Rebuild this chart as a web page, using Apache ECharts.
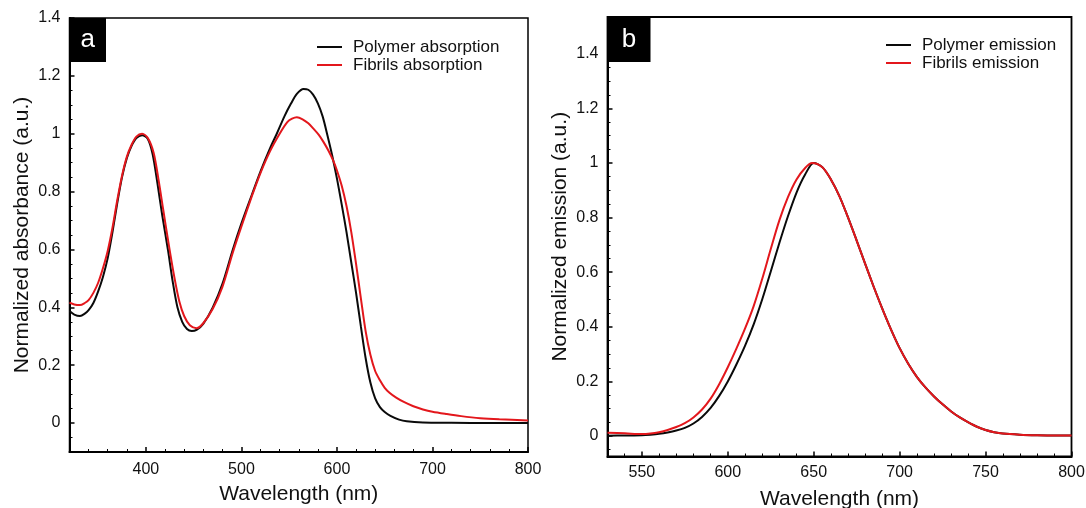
<!DOCTYPE html>
<html><head><meta charset="utf-8">
<script src="https://cdn.jsdelivr.net/npm/echarts@6/dist/echarts.min.js"></script>
<style>html,body{margin:0;padding:0;background:#fff}#c{width:1086px;height:508px}</style>
</head><body><div id="c"></div>
<script>
// ---- Panel a: absorption ----
const absPolymerWl = [320,325,331,336,340,345,350,355,360,365,370,375,380,385,390,396,402,407,412,417,423,428,433,438,443,448,453,460,470,480,491,500,511,520,530,537,545,552,558,565,570,575,580,585,590,595,600,605,610,615,620,625,630,635,640,645,650,656,665,673,690,720,760,800];
const absPolymer   = [0.387,0.375,0.370,0.378,0.390,0.415,0.455,0.505,0.570,0.660,0.760,0.850,0.915,0.958,0.985,0.995,0.982,0.930,0.830,0.720,0.600,0.490,0.400,0.350,0.325,0.318,0.322,0.343,0.400,0.480,0.600,0.690,0.790,0.870,0.950,1.000,1.060,1.105,1.138,1.155,1.152,1.135,1.105,1.060,0.995,0.925,0.845,0.755,0.660,0.555,0.450,0.335,0.225,0.140,0.085,0.055,0.038,0.025,0.012,0.006,0.002,0.001,0.000,0.000];
const absFibrilsWl = [320,325,331,336,340,345,350,355,360,365,370,375,380,385,390,396,402,408,413,418,424,430,435,440,446,453,460,470,480,491,500,511,520,530,540,548,553,558,564,570,575,581,586,591,596,600,605,610,615,620,625,630,635,640,645,650,655,662,670,680,690,700,715,730,750,770,800];
const absFibrils   = [0.416,0.410,0.408,0.415,0.425,0.450,0.485,0.535,0.595,0.675,0.770,0.855,0.920,0.962,0.990,1.000,0.985,0.935,0.845,0.740,0.615,0.500,0.420,0.370,0.338,0.328,0.345,0.395,0.470,0.590,0.680,0.785,0.865,0.940,1.000,1.040,1.052,1.057,1.050,1.036,1.019,0.996,0.971,0.942,0.908,0.873,0.820,0.750,0.660,0.550,0.432,0.318,0.236,0.180,0.148,0.122,0.105,0.088,0.073,0.058,0.047,0.039,0.031,0.024,0.017,0.013,0.009];

// ---- Panel b: emission ----
const emPolymerWl = [530,540,550,555,560,565,570,575,580,585,590,595,600,605,610,615,620,625,630,635,640,645,650,655,660,665,670,675,680,685,690,695,700,705,710,715,720,725,730,735,740,745,750,755,760,770,780,790,800];
const emPolymer   = [0.001,0.002,0.003,0.005,0.008,0.013,0.020,0.030,0.046,0.070,0.103,0.147,0.200,0.262,0.330,0.408,0.500,0.603,0.707,0.805,0.892,0.958,1.000,0.985,0.940,0.878,0.800,0.716,0.630,0.545,0.465,0.390,0.322,0.265,0.217,0.178,0.145,0.116,0.090,0.068,0.050,0.034,0.022,0.014,0.009,0.005,0.003,0.002,0.002];
const emFibrilsWl = [530,540,550,555,560,565,570,575,580,585,590,595,600,605,610,615,620,625,630,635,640,645,649,655,660,665,670,675,680,685,690,695,700,705,710,715,720,725,730,735,740,745,750,755,760,770,780,790,800];
const emFibrils   = [0.012,0.010,0.007,0.009,0.014,0.022,0.033,0.047,0.068,0.097,0.137,0.190,0.252,0.320,0.393,0.475,0.575,0.685,0.790,0.875,0.940,0.982,1.000,0.985,0.940,0.878,0.800,0.716,0.630,0.545,0.465,0.390,0.322,0.265,0.217,0.178,0.145,0.116,0.090,0.068,0.050,0.034,0.022,0.014,0.009,0.005,0.003,0.002,0.002];

const absNames = ['Polymer absorption', 'Fibrils absorption'];
const emNames  = ['Polymer emission', 'Fibrils emission'];
const panelLetters = ['a', 'b'];

const zip = (xs, ys) => xs.map((x, i) => [x, ys[i]]);
const FONT = "'Liberation Sans', Arial, Helvetica, sans-serif";
const BLACK = '#0a0a0a', RED = '#e3171c';

function xAxisCfg(gridIndex, min, max, split, minorSplit, step, gap, margin) {
  return {
    type: 'value', gridIndex, min, max, splitNumber: split,
    name: 'Wavelength (nm)', nameLocation: 'middle', nameGap: gap,
    nameTextStyle: { fontSize: 21, color: '#111', fontFamily: FONT },
    axisLine: { onZero: false, lineStyle: { color: '#000', width: 2 } },
    axisTick: { inside: true, length: 5, lineStyle: { color: '#000', width: 1.5 } },
    minorTick: { show: true, splitNumber: minorSplit, length: 3, lineStyle: { color: '#000', width: 1 } },
    axisLabel: { fontSize: 16, color: '#111', fontFamily: FONT, margin,
      formatter: v => (Math.abs(v / step - Math.round(v / step)) < 1e-6 ? String(v) : '') },
    splitLine: { show: false }
  };
}
function yAxisCfg(gridIndex, min, max, split, name, gap) {
  return {
    type: 'value', gridIndex, min, max, splitNumber: split,
    name, nameLocation: 'middle', nameGap: gap,
    nameTextStyle: { fontSize: 21, color: '#111', fontFamily: FONT },
    axisLine: { onZero: false, lineStyle: { color: '#000', width: 2 } },
    axisTick: { inside: true, length: 5, lineStyle: { color: '#000', width: 1.5 } },
    minorTick: { show: true, splitNumber: 4, length: 3, lineStyle: { color: '#000', width: 1 } },
    axisLabel: { fontSize: 16, color: '#111', fontFamily: FONT, margin: 9,
      formatter: v => {
        const r = Math.round(v * 5);
        if (Math.abs(v * 5 - r) > 1e-6 || r < 0 || r > 7) return '';
        return String(+(r * 0.2).toFixed(1));
      } },
    splitLine: { show: false }
  };
}
function lineSeries(name, xi, data, color) {
  return { type: 'line', name, xAxisIndex: xi, yAxisIndex: xi, data, smooth: 0.3,
    symbol: 'none', lineStyle: { color, width: 2 }, itemStyle: { color }, z: 3 };
}
function legendCfg(data, left, top) {
  return { data, left, top, orient: 'vertical', icon: 'rect', itemWidth: 25, itemHeight: 2,
    itemGap: 0, selectedMode: false, padding: 0,
    textStyle: { fontSize: 17, lineHeight: 18, color: '#111', fontFamily: FONT, padding: [0, 0, 0, 6] } };
}
function letterBox(x, y, w, h, letter) {
  return { type: 'group', x, y, z: 10, children: [
    { type: 'rect', shape: { x: 0, y: 0, width: w, height: h }, style: { fill: '#000' } },
    { type: 'text', x: w / 2, y: h / 2, style: { text: letter, fill: '#fff', font: '26px ' + FONT, align: 'center', verticalAlign: 'middle' } }
  ] };
}

const chart = echarts.init(document.getElementById('c'), null, { renderer: 'canvas' });
chart.setOption({
  animation: false,
  backgroundColor: '#fff',
  textStyle: { fontFamily: FONT },
  grid: [
    { left: 69.5, top: 18, width: 458.5, height: 434, outerBoundsMode: 'none', containLabel: false,
      show: true, borderColor: '#000', borderWidth: 1.5, backgroundColor: 'transparent' },
    { left: 607.5, top: 17, width: 464, height: 439.5, outerBoundsMode: 'none', containLabel: false,
      show: true, borderColor: '#000', borderWidth: 1.8, backgroundColor: 'transparent' }
  ],
  xAxis: [
    xAxisCfg(0, 320, 800, 5, 5, 100, 32, 10),
    xAxisCfg(1, 530, 800, 5, 5, 50, 32, 8)
  ],
  yAxis: [
    yAxisCfg(0, -0.1, 1.4, 7, 'Normalized absorbance (a.u.)', 37),
    yAxisCfg(1, -0.075, 1.535, 8, 'Normalized emission (a.u.)', 37)
  ],
  legend: [
    legendCfg(absNames, 317, 38),
    legendCfg(emNames, 886, 36)
  ],
  series: [
    lineSeries(absNames[0], 0, zip(absPolymerWl, absPolymer), BLACK),
    lineSeries(absNames[1], 0, zip(absFibrilsWl, absFibrils), RED),
    lineSeries(emNames[0], 1, zip(emPolymerWl, emPolymer), BLACK),
    lineSeries(emNames[1], 1, zip(emFibrilsWl, emFibrils), RED)
  ],
  graphic: [
    letterBox(69.5, 18, 36.5, 44, panelLetters[0]),
    letterBox(607.5, 17, 43, 45, panelLetters[1])
  ]
});
</script></body></html>
